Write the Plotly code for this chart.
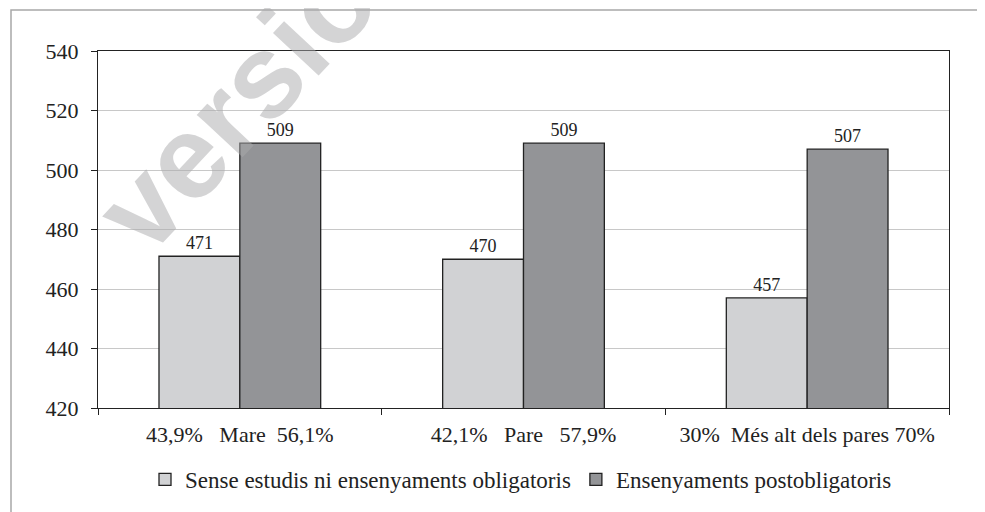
import plotly.graph_objects as go

categories = ["43,9%\u00a0\u00a0 Mare\u00a0 56,1%",
              "42,1%\u00a0\u00a0 Pare\u00a0\u00a0 57,9%",
              "30%\u00a0 Més alt dels pares 70%"]
series_names = ["Sense estudis ni ensenyaments obligatoris",
                "Ensenyaments postobligatoris"]
values_low = [471, 470, 457]
values_high = [509, 509, 507]
y_ticks = [420, 440, 460, 480, 500, 520, 540]

FONT = "Liberation Serif"
colors = ["#d1d2d4", "#939497"]

fig = go.Figure()
for name, vals, col in zip(series_names, [values_low, values_high], colors):
    fig.add_trace(go.Bar(
        x=categories, y=vals, name=name,
        marker=dict(color=col, line=dict(color="#222222", width=1.3)),
        text=[str(v) for v in vals], textposition="outside",
        textfont=dict(family=FONT, size=18, color="#222222"),
        cliponaxis=False,
    ))

OFF = 8  # page body margin
W, H = 985 - OFF, 512 - OFF
L, R, T, B = 98 - OFF, 36, 51 - OFF, 103
pw = W - L - R
ph = H - T - B

fig.update_layout(
    width=W, height=H,
    margin=dict(l=L, r=R, t=T, b=B, pad=0),
    paper_bgcolor="white", plot_bgcolor="white",
    barmode="group", bargap=0.43, bargroupgap=0,
    font=dict(family=FONT, size=22, color="#222222"),
    showlegend=True,
    legend=dict(orientation="h", x=(521 - 98) / pw, xanchor="center",
                y=-(458 - 409) / ph, yanchor="top",
                font=dict(family=FONT, size=23, color="#222222"),
                itemwidth=30, traceorder="normal"),
    xaxis=dict(showline=True, linecolor="#222222", linewidth=1.3, mirror=True,
               ticks="outside", tickson="boundaries", ticklen=6,
               tickcolor="#222222", tickwidth=1.3, ticklabelstandoff=6,
               showgrid=False, tickfont=dict(family=FONT, size=22)),
    yaxis=dict(range=[420, 540], tickvals=y_ticks, showline=True,
               linecolor="#222222", linewidth=1.3, mirror=True,
               ticks="outside", ticklen=6, tickcolor="#222222", tickwidth=1.3,
               ticklabelstandoff=8,
               showgrid=True, gridcolor="#c8c8c8", gridwidth=1.3,
               tickfont=dict(family=FONT, size=22), zeroline=False),
    shapes=[dict(type="rect", xref="paper", yref="paper",
                 x0=(11 - 98) / pw, x1=1.2,
                 y0=-0.5, y1=(409 - 10) / ph,
                 line=dict(color="#a8a8a8", width=1.5), fillcolor="rgba(0,0,0,0)",
                 layer="below")],
    annotations=[dict(text="<b>versió</b>", xref="paper", yref="paper",
                      x=(236 - 98) / pw, y=(409 - 104) / ph,
                      xanchor="center", yanchor="middle", showarrow=False,
                      textangle=-47,
                      font=dict(family="Liberation Sans", size=118,
                                color="rgba(170,170,172,0.5)"))],
)

fig.write_html("out.html")
